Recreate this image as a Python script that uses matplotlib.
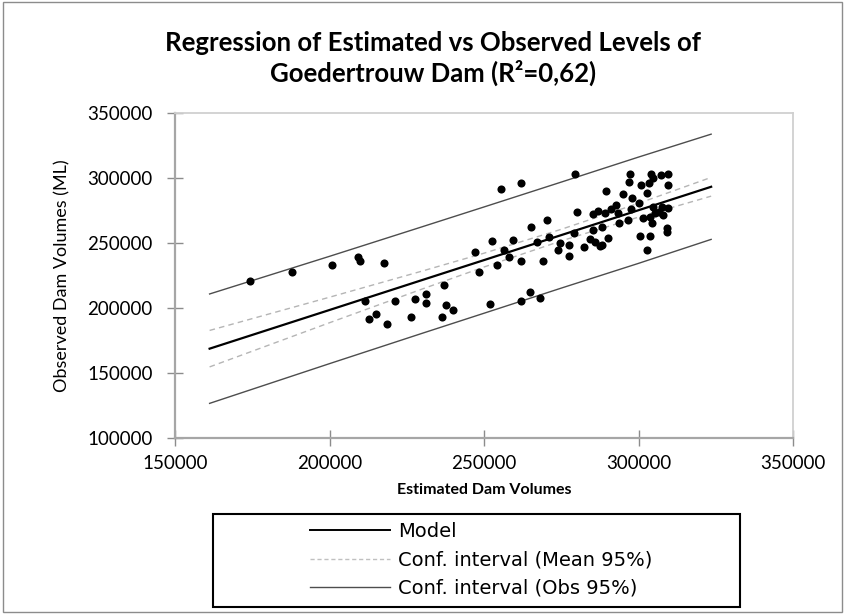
import matplotlib
matplotlib.use('Agg')
import matplotlib.pyplot as plt
from matplotlib.patches import Rectangle
from matplotlib.lines import Line2D

# ---- data ----
est_volumes = [174340, 188000, 200740, 209150, 209900, 217740, 236940, 231220, 231220,
               227660, 221300, 211600, 215000, 212800, 218500, 226270, 236290, 237700,
               239850,
               255470, 261820, 279600, 280100, 270400, 265250, 252550, 259440, 247060,
               256520, 257950, 254070, 248350, 261820, 268930, 267000, 271070, 274530,
               273780, 277430, 277430, 282380, 279150, 251900, 261820, 264830, 268060,
               297380, 303940, 307170, 309530, 304680, 296930, 300930, 303400, 309530,
               289400, 295000, 297900, 302870, 292850, 291000, 286900, 285300, 289100,
               297580, 304680, 307720, 309530, 305230, 307920, 303850, 293700, 296600,
               301450, 304490, 288330, 285300, 284220, 285840, 290150, 287460, 309200,
               309200, 300400, 303620, 302750, 293370, 288200, 306500, 300100]
obs_volumes = [221000, 227700, 233060, 239430, 236400, 234360, 217700, 210800, 203650,
               207200, 205400, 205400, 195700, 191600, 187750, 193400, 193400, 202600,
               198500,
               291200, 295800, 302700, 273500, 267600, 262200, 251300, 252000, 242800,
               244300, 239400, 233060, 227450, 236400, 236100, 251000, 254300, 250200,
               244600, 248400, 240000, 246650, 257400, 202900, 205650, 212300, 207500,
               302700, 303000, 302400, 302700, 299600, 296600, 294300, 296200, 294300,
               289900, 287300, 284700, 288600, 279100, 276000, 274700, 272200, 272800,
               275800, 277800, 277800, 276600, 272800, 271400, 269700, 265100, 267600,
               268900, 265100, 262500, 259900, 253000, 251000, 253600, 248000, 261700,
               258600, 255300, 255300, 244600, 273200, 248400, 273600, 281000]

band_x      = [161200, 200000, 230000, 250000, 275000, 300000, 323500]
model_y     = [168800, 198500, 221500, 236800, 256000, 275100, 293100]
mean_upper  = [182800, 208300, 228400, 242100, 260450, 280400, 300300]
mean_lower  = [154800, 188700, 214600, 231500, 251550, 269800, 285900]
obs_upper   = [210800, 239700, 262400, 277600, 296700, 315900, 333500]
obs_lower   = [126800, 157300, 180600, 196000, 215300, 234300, 252700]

x_ticks = [150000, 200000, 250000, 300000, 350000]
y_ticks = [100000, 150000, 200000, 250000, 300000, 350000]

title = "Regression of Estimated vs Observed Levels of\nGoedertrouw Dam (R\u00b2=0,62)"
x_label = "Estimated Dam Volumes"
y_label = "Observed Dam Volumes (ML)"
legend_labels = ["Model", "Conf. interval (Mean 95%)", "Conf. interval (Obs 95%)"]

FAM = ['Lato', 'DejaVu Sans']

# ---- figure ----
fig = plt.figure(figsize=(8.45, 6.14), dpi=100)
fig.patch.set_facecolor('white')
fig.patches.append(Rectangle((0.004, 0.004), 0.992, 0.992, transform=fig.transFigure,
                             fill=False, edgecolor='#8c8c8c', linewidth=1.0))

ax = fig.add_axes([0.2071, 0.2862, 0.7314, 0.5303])
ax.set_xlim(150000, 350000)
ax.set_ylim(100000, 350000)

# bands and model
ax.plot(band_x, obs_upper, color='#4d4d4d', lw=1.0)
ax.plot(band_x, obs_lower, color='#4d4d4d', lw=1.0)
ax.plot(band_x, mean_upper, color='#b5b5b5', lw=1.0, ls=(0, (4, 3)))
ax.plot(band_x, mean_lower, color='#b5b5b5', lw=1.0, ls=(0, (4, 3)))
ax.plot(band_x, model_y, color='black', lw=1.6)
ax.scatter(est_volumes, obs_volumes, s=34, color='black', zorder=3, linewidths=0)

ax.set_xticks(x_ticks)
ax.set_yticks(y_ticks)
ax.set_xticklabels([str(v) for v in x_ticks])
ax.set_yticklabels([str(v) for v in y_ticks])
for lab in ax.get_xticklabels() + ax.get_yticklabels():
    lab.set_fontfamily(FAM)
    lab.set_fontsize(13.5)
    lab.set_color('black')
ax.tick_params(axis='both', direction='inout', length=12, width=1.0, color='#8c8c8c')
ax.tick_params(axis='x', pad=6)
ax.tick_params(axis='y', pad=10)

for s in ['left', 'bottom']:
    ax.spines[s].set_color('#a6a6a6')
    ax.spines[s].set_linewidth(1.6)
for s in ['top', 'right']:
    ax.spines[s].set_color('#d0d0d0')
    ax.spines[s].set_linewidth(1.3)

ax.set_xlabel(x_label, fontsize=11.5, fontweight='bold', family=FAM, labelpad=8)
ax.set_ylabel(y_label, fontsize=13, family=FAM, labelpad=12)

fig.text(0.512, 0.905, title, ha='center', va='center', fontsize=18.5, fontweight='bold',
         family=FAM, linespacing=1.2)

# legend box
fig.patches.append(Rectangle((213 / 845, 1 - 607 / 614), (740 - 213) / 845, (607 - 514) / 614,
                             transform=fig.transFigure, fill=False, edgecolor='black',
                             linewidth=1.5))
handles = [Line2D([], [], color='black', lw=1.4),
           Line2D([], [], color='#c0c0c0', lw=1.0, ls=(0, (3, 2))),
           Line2D([], [], color='#4d4d4d', lw=1.0)]
leg = fig.legend(handles, legend_labels, loc='upper left',
                 bbox_to_anchor=(310 / 845, 1 - 522 / 614), frameon=False,
                 handlelength=4.1, handletextpad=0.42, labelspacing=0.48,
                 borderpad=0.0, borderaxespad=0.0,
                 prop={'family': 'DejaVu Sans', 'size': 14})

fig.savefig('out.png', dpi=100)
